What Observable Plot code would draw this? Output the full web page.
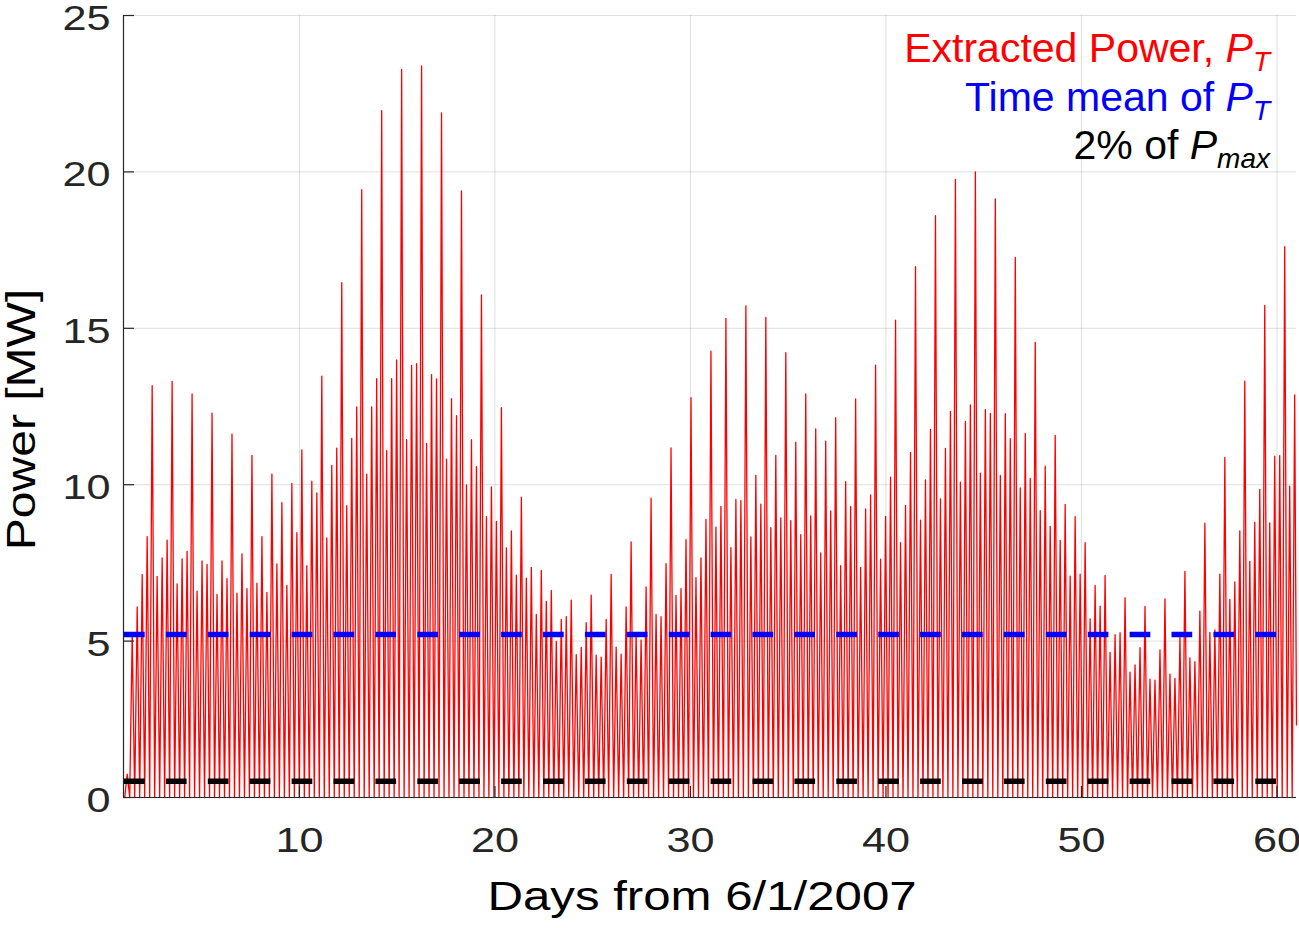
<!DOCTYPE html>
<html>
<head>
<meta charset="utf-8">
<script src="https://cdn.jsdelivr.net/npm/d3@7"></script>
<script src="https://cdn.jsdelivr.net/npm/@observablehq/plot@0.6"></script>
<style>
  body { margin: 0; background: #fff; }
  #chart { width: 1299px; height: 928px; }
</style>
</head>
<body>
<div id="chart"></div>
<script>
// peak power of each half tidal cycle [MW], in time order
const peaksA = [0.75, 5.2, 6.09, 7.13, 8.34, 13.17, 7.07, 7.66, 8.23, 13.30,
  6.83, 7.63, 7.87, 12.90, 6.60, 7.56, 7.45, 12.29, 6.49, 7.56,
  7.00, 11.62, 6.53, 7.79, 6.68, 10.94, 6.85, 8.34, 6.56, 10.34,
  7.47, 9.43, 6.78, 10.04, 8.47, 11.11, 7.41, 10.11, 9.74, 13.47];
const peaksB = [8.30, 10.62, 11.17, 16.46, 9.33, 11.48, 12.49, 19.43, 10.34, 12.49,
  13.39, 21.96, 11.09, 13.39, 13.99, 23.28, 11.44, 13.81, 13.87, 23.39,
  11.32, 13.52, 13.38, 21.89, 10.82, 12.75, 12.21, 19.39, 9.99, 11.44,
  10.58, 16.07, 8.98, 9.93, 8.83, 12.46, 7.98, 8.52, 7.11, 9.60];
const peaksC = [7.01, 7.36, 5.85, 7.26, 6.27, 6.62, 4.99, 5.69, 5.78, 6.31,
  4.57, 4.80, 5.59, 6.47, 4.55, 4.49, 5.69, 7.13, 4.81, 4.58,
  6.09, 8.17, 5.27, 5.04, 6.73, 9.57, 5.85, 5.78, 7.48, 11.18,
  6.46, 6.68, 8.24, 12.78, 7.03, 7.66, 8.89, 14.27, 8.64, 9.31];
const peaksD = [15.32, 7.99, 9.53, 9.49, 15.72, 8.33, 10.30, 9.38, 15.35, 8.63,
  10.94, 8.94, 14.22, 8.85, 11.36, 8.40, 12.90, 9.00, 11.78, 7.82,
  11.39, 9.16, 12.14, 7.41, 10.10, 9.30, 12.74, 7.36, 9.23, 9.67,
  13.82, 7.62, 8.99, 10.24, 15.26, 8.15, 9.34, 11.03, 16.97, 8.87];
const peaksE = [10.15, 11.77, 18.60, 9.55, 11.16, 12.34, 19.76, 10.08, 12.02, 12.55,
  20.00, 10.37, 12.40, 12.28, 19.14, 10.30, 12.27, 11.47, 17.27, 9.90,
  11.64, 10.20, 14.55, 9.17, 10.59, 8.67, 11.58, 8.22, 9.37, 7.08,
  8.98, 7.14, 8.15, 5.71, 6.78, 6.12, 7.10, 4.64, 5.21, 5.27];
const peaksF = [6.39, 4.01, 4.24, 4.79, 6.11, 3.78, 3.75, 4.72, 6.35, 3.94,
  3.81, 5.12, 7.23, 4.46, 4.34, 5.96, 8.77, 5.28, 5.36, 7.14,
  10.87, 6.33, 6.89, 8.52, 13.31, 7.55, 8.80, 9.85, 15.73, 8.78,
  10.91, 10.93, 17.61, 9.95, 12.87];

const firstPeakDay = 1.19;   // day of the first peak
const peakSpacing = 0.2552;  // days between peaks (half tidal cycle)
const slackPower = 0;        // power at slack water between peaks
const lastDay = 61;
const lastPower = 2.32;

const meanPower = 5.21;      // time mean of P_T
const twoPctPmax = 0.52;     // 2% of P_max

const xDomain = [1, 61];
const yDomain = [0, 25];
const xTicks = [10, 20, 30, 40, 50, 60];
const yTicks = [0, 5, 10, 15, 20, 25];

const xLabel = "Days from 6/1/2007";
const yLabel = "Power [MW]";
const legendItems = [
  {text: "Extracted Power, ", sub: "T", color: "#ff0000"},
  {text: "Time mean of ", sub: "T", color: "#0000ff"},
  {text: "2% of ", sub: "max", color: "#000000"}
];

// build the power time series: zero at slack, peak in between
const peaks = [...peaksA, ...peaksB, ...peaksC, ...peaksD, ...peaksE, ...peaksF];
const series = [{day: firstPeakDay - peakSpacing / 2, power: slackPower}];
peaks.forEach((p, i) => {
  const day = firstPeakDay + i * peakSpacing;
  series.push({day, power: p});
  if (i < peaks.length - 1) series.push({day: day + peakSpacing / 2, power: slackPower});
});
series.push({day: lastDay, power: lastPower});

const W = 1299, H = 928;
const mL = 123, mR = 3, mT = 15, mB = 131;
const frameW = W - mL - mR, frameH = H - mT - mB;
const axisColor = "#262626";
const font = "'Liberation Sans', Arial, Helvetica, sans-serif";

const chart = Plot.plot({
  width: W,
  height: H,
  marginLeft: mL,
  marginRight: mR,
  marginTop: mT,
  marginBottom: mB,
  style: {fontFamily: font, background: "#fff", overflow: "visible"},
  x: {domain: xDomain},
  y: {domain: yDomain},
  marks: [
    Plot.gridX(xTicks, {stroke: axisColor, strokeOpacity: 0.15, strokeWidth: 1}),
    Plot.gridY(yTicks, {stroke: axisColor, strokeOpacity: 0.15, strokeWidth: 1}),
    Plot.line(series, {x: "day", y: "power", stroke: "#ff0000", strokeWidth: 1.3}),
    Plot.ruleY([meanPower], {stroke: "#0000ff", strokeWidth: 5.5, strokeDasharray: "20.7,21.2", strokeDashoffset: -1}),
    Plot.ruleY([twoPctPmax], {stroke: "#000000", strokeWidth: 5.5, strokeDasharray: "20.7,21.2", strokeDashoffset: -1}),
    Plot.ruleX([xDomain[0]], {stroke: axisColor, strokeWidth: 1.2}),
    Plot.ruleY([yDomain[0]], {stroke: axisColor, strokeWidth: 1.2}),
    Plot.tickX(xTicks, {x: d => d, stroke: axisColor, strokeWidth: 1.2, insetTop: frameH - 11}),
    Plot.tickY(yTicks, {y: d => d, stroke: axisColor, strokeWidth: 1.2, insetRight: frameW - 11}),
    Plot.axisX(xTicks, {tickSize: 0, tickPadding: 29, fontSize: 36, color: axisColor, label: null}),
    Plot.axisY(yTicks, {tickSize: 0, tickPadding: 13, fontSize: 36, color: axisColor, label: null, dy: 3}),
    Plot.text([xLabel], {frameAnchor: "bottom", text: d => d, dx: -8, dy: 83, lineAnchor: "top", fontSize: 41, fill: "#000"}),
    Plot.text([yLabel], {frameAnchor: "left", text: d => d, textAnchor: "middle", dx: -101, dy: 13, rotate: -90, fontSize: 40, fill: "#000"})
  ]
});

// the figure's axis lettering is wider than Arial: stretch it sideways
d3.select(chart).selectAll("text").each(function () {
  const tr = this.getAttribute("transform") || "";
  this.setAttribute("transform", tr + " scale(1.2,1)");
});

// legend, right aligned in the top corner
const legend = d3.select(chart).append("g")
  .attr("font-family", font)
  .attr("font-size", 41)
  .attr("text-anchor", "end");
const legendBaselines = [62, 111, 159];
legendItems.forEach((item, i) => {
  const t = legend.append("text")
    .attr("x", 1270)
    .attr("y", legendBaselines[i])
    .attr("fill", item.color);
  t.append("tspan").text(item.text);
  t.append("tspan").attr("font-style", "italic").text("P");
  t.append("tspan").attr("font-style", "italic").attr("font-size", 28).attr("dy", 9).text(item.sub);
});

document.getElementById("chart").appendChild(chart);
</script>
</body>
</html>
